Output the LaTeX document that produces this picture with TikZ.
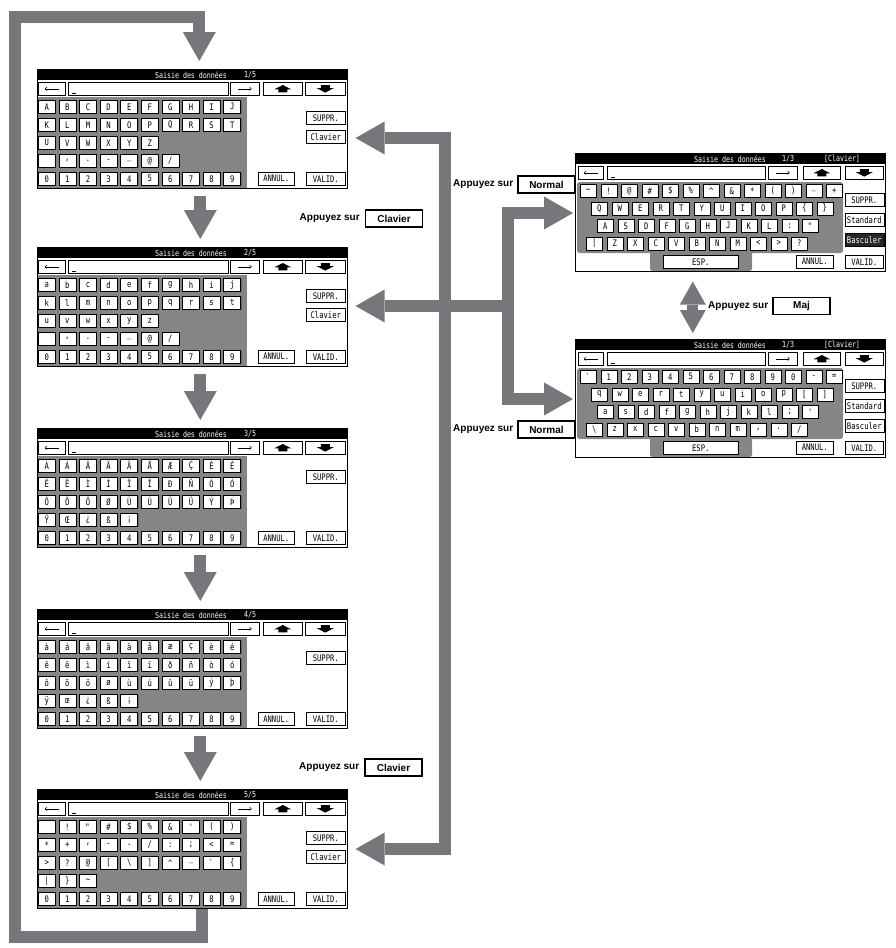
\documentclass[tikz,border=0pt]{standalone}
\usepackage{fontspec}
\setmainfont{Liberation Sans}
\newfontfamily\lcd[FakeStretch=0.8]{DejaVu Sans Mono}
\usetikzlibrary{arrows.meta,calc}
\definecolor{arrowgray}{HTML}{77777B}
\definecolor{padgray}{HTML}{858585}
\newcommand\lcdfont{\lcd\fontsize{9}{9}\selectfont}
\tikzset{
 btn/.style={draw=black, fill=white, line width=0.55pt, minimum height=13pt, inner sep=0pt, anchor=north west, font=\lcdfont, preaction={fill=black!60, transform canvas={xshift=0.9pt,yshift=-0.9pt}}},
 key/.style={btn, minimum width=17pt},
 field/.style={draw=black, fill=white, line width=0.55pt, minimum height=13pt, inner sep=0pt, anchor=north west},
 ttl/.style={text=white, font=\lcd\fontsize{8.3}{8.3}\selectfont, inner sep=0pt},
 frame/.style={draw=black, line width=0.6pt, inner sep=0pt, anchor=north west, minimum width=310pt},
 bigarrow/.style={draw=arrowgray, line width=12pt, line join=miter, -{Triangle[length=29pt,width=33pt,line width=0pt]}},
 shaft/.style={draw=arrowgray, line width=12pt, line join=miter},
 lab/.style={font=\bfseries\fontsize{10}{12}\selectfont, inner sep=0pt, anchor=east},
 lbox/.style={draw=black, line width=1.1pt, font=\bfseries\fontsize{10}{12}\selectfont, minimum width=57pt, minimum height=17pt, inner sep=0pt},
 hilite/.style={fill=black!85, text=white},
 plain/.style={},
}
\newcommand\keyrow[6]{%
 \foreach \c [count=\i from 0] in {#5} {\node[key, minimum width=#6pt] (#1-\i) at ({#2+#4*\i},#3) {\c};}%
}
\newcommand\uparr[1]{\fill[shift={(#1.center)}] (0,-3.8) -- (8.5,0.6) -- (4.5,0.6) -- (4.5,3.6) -- (-4.5,3.6) -- (-4.5,0.6) -- (-8.5,0.6) -- cycle;}
\newcommand\dnarr[1]{\fill[shift={(#1.center)}] (0,3.8) -- (8.5,-0.6) -- (4.5,-0.6) -- (4.5,-3.6) -- (-4.5,-3.6) -- (-4.5,-0.6) -- (-8.5,-0.6) -- cycle;}
\newcommand\larr[1]{\draw[line width=0.5pt,-{Straight Barb[length=1.8pt,width=3.2pt]}] ($(#1.center)+(7,0)$) -- ($(#1.center)+(-7,0)$);}
\newcommand\rarr[1]{\draw[line width=0.5pt,-{Straight Barb[length=1.8pt,width=3.2pt]}] ($(#1.center)+(-7,0)$) -- ($(#1.center)+(7,0)$);}
\newcommand\leftscreen[7]{%
 \fill[padgray] (37,#2+28) rectangle (247,#2+119);
 \fill[black] (37,#2) rectangle (347,#2+11);
 \node[ttl] (#1-t) at (191,#2+5.8) {Saisie des données};
 \node[ttl] (#1-p) at (250,#2+5.8) {#3/5};
 \node[btn, minimum width=27pt] (#1-lt) at (38,#2+13) {};
 \node[field, minimum width=160pt] (#1-f) at (68,#2+13) {};
 \draw[line width=0.5pt] (72,#2+24) -- (76,#2+24);
 \node[btn, minimum width=29pt] (#1-rt) at (230,#2+13) {};
 \node[btn, minimum width=39pt] (#1-up) at (263,#2+13) {};
 \node[btn, minimum width=40pt] (#1-dn) at (305,#2+13) {};
 \larr{#1-lt}\rarr{#1-rt}\uparr{#1-up}\dnarr{#1-dn}
 \keyrow{#1-a}{38}{#2+31}{20.6}{#4}{17}
 \keyrow{#1-b}{38}{#2+49}{20.6}{#5}{17}
 \keyrow{#1-c}{38}{#2+67}{20.6}{#6}{17}
 \keyrow{#1-d}{38}{#2+85}{20.6}{#7}{17}
 \keyrow{#1-e}{38}{#2+103}{20.6}{0,1,2,3,4,5,6,7,8,9}{17}
 \node[btn, minimum width=39pt] (#1-sup) at (306,#2+42) {SUPPR.};
 \node[btn, minimum width=36pt] (#1-ann) at (258,#2+103) {ANNUL.};
 \node[btn, minimum width=39pt] (#1-val) at (306,#2+103) {VALID.};
 \node[frame, minimum height=119pt] (#1) at (37,#2) {};
}
\newcommand\clav[2]{\node[btn, minimum width=39pt] (#1-clv) at (306,#2+61) {Clavier};}
\newcommand\rightscreen[7]{%
 \fill[padgray, rounded corners=2.5pt] (577,#2+29) rectangle (843,#2+100);
 \fill[padgray, rounded corners=2.5pt] (650,#2+90) rectangle (752,#2+118);
 \fill[black] (575,#2) rectangle (885,#2+11);
 \node[ttl] (#1-t) at (730,#2+5.8) {Saisie des données};
 \node[ttl] (#1-p) at (788,#2+5.8) {1/3};
 \node[ttl] (#1-k) at (842,#2+5.8) {[Clavier]};
 \node[btn, minimum width=25pt] (#1-lt) at (578,#2+13) {};
 \node[field, minimum width=158pt] (#1-f) at (607,#2+13) {};
 \draw[line width=0.5pt] (611,#2+24) -- (615,#2+24);
 \node[btn, minimum width=29pt] (#1-rt) at (768,#2+13) {};
 \node[btn, minimum width=37pt] (#1-up) at (803,#2+13) {};
 \node[btn, minimum width=38pt] (#1-dn) at (845,#2+13) {};
 \larr{#1-lt}\rarr{#1-rt}\uparr{#1-up}\dnarr{#1-dn}
 \keyrow{#1-a}{580}{#2+31}{20.5}{#3}{16}
 \keyrow{#1-b}{591}{#2+48.5}{20.5}{#4}{16}
 \keyrow{#1-c}{597}{#2+66}{20.5}{#5}{16}
 \keyrow{#1-d}{586}{#2+83.5}{20.5}{#6}{16}
 \node[btn, minimum width=39pt] (#1-sup) at (844.5,#2+40) {SUPPR.};
 \node[btn, minimum width=39pt] (#1-std) at (844.5,#2+60) {Standard};
 \node[btn, minimum width=39pt, #7] (#1-bas) at (844.5,#2+80) {Basculer};
 \node[btn, minimum width=75pt] (#1-esp) at (663,#2+102) {ESP.};
 \node[btn, minimum width=37pt] (#1-ann) at (796,#2+102) {ANNUL.};
 \node[btn, minimum width=38pt] (#1-val) at (845,#2+102) {VALID.};
 \node[frame, minimum height=118pt] (#1) at (575,#2) {};
}
\begin{document}
\begin{tikzpicture}[x=1pt,y=-1pt]
\fill[white] (0,0) rectangle (896,948);
\useasboundingbox (0,0) rectangle (896,948);

% ---------- left screens ----------
\leftscreen{L1}{69}{1}{A,B,C,D,E,F,G,H,I,J}{K,L,M,N,O,P,Q,R,S,T}{U,V,W,X,Y,Z}{{},{,},.,-,\_,@,/}
\clav{L1}{69}
\leftscreen{L2}{247}{2}{a,b,c,d,e,f,g,h,i,j}{k,l,m,n,o,p,q,r,s,t}{u,v,w,x,y,z}{{},{,},.,-,\_,@,/}
\clav{L2}{247}
\leftscreen{L3}{428}{3}{À,Á,Â,Ã,Ä,Å,Æ,Ç,È,É}{Ê,Ë,Ì,Í,Î,Ï,Ð,Ñ,Ò,Ó}{Ô,Õ,Ö,Ø,Ù,Ú,Û,Ü,Ý,Þ}{Ÿ,Œ,¿,ß,¡}
\leftscreen{L4}{609}{4}{à,á,â,ã,ä,å,æ,ç,è,é}{ê,ë,ì,í,î,ï,ð,ñ,ò,ó}{ô,õ,ö,ø,ù,ú,û,ü,ý,þ}{ÿ,œ,¿,ß,¡}
\leftscreen{L5}{789}{5}{{},!,\textquotedbl,\#,\$,\%,\&,',{(},{)}}{*,+,{,},-,.,/,:,;,<,=}{>,?,@,[,\textbackslash,],\textasciicircum,\_,\textasciigrave,\{}{|,\},\textasciitilde}
\clav{L5}{789}

% ---------- right screens ----------
\rightscreen{R1}{153}{\textasciitilde,!,@,\#,\$,\%,\textasciicircum,\&,*,{(},{)},\_,+}{Q,W,E,R,T,Y,U,I,O,P,\{,\}}{A,S,D,F,G,H,J,K,L,:,\textquotedbl}{|,Z,X,C,V,B,N,M,<,>,?}{hilite}
\rightscreen{R2}{339}{\textasciigrave,1,2,3,4,5,6,7,8,9,0,-,=}{q,w,e,r,t,y,u,i,o,p,[,]}{a,s,d,f,g,h,j,k,l,;,'}{\textbackslash,z,x,c,v,b,n,m,{,},.,/}{plain}

% ---------- loop arrow ----------
\coordinate (lp0) at ($(L5.south)+(10,0)$);
\coordinate (lp1) at ($(L1.north)+(7,-8)$);
\draw[bigarrow] (lp0) -- ++(0,28) -| (14.5,16.5) -| (lp1);

% ---------- down arrows ----------
\draw[bigarrow] ($(L1.south)+(8,7)$) -- ($(L2.north)+(8,-8)$);
\draw[bigarrow] ($(L2.south)+(8,7)$) -- ($(L3.north)+(8,-8)$);
\draw[bigarrow] ($(L3.south)+(8,7)$) -- ($(L4.north)+(8,-8)$);
\draw[bigarrow] ($(L4.south)+(8,7)$) -- ($(L5.north)+(8,-8)$);

% ---------- bus arrows ----------
\coordinate (J) at (445,306);
\coordinate (J2) at (507.5,306);
\coordinate (T1) at ($(L1.north east)+(8,69)$);
\coordinate (T2) at ($(L2.north east)+(8,59)$);
\coordinate (T5) at ($(L5.north east)+(8,60)$);
\coordinate (TR1) at ($(R1.north west)+(-2,60)$);
\coordinate (TR2) at ($(R2.north west)+(-2,60)$);
\draw[bigarrow] (J) |- (T1);
\draw[bigarrow] (J) -- (T2);
\draw[bigarrow] (J) |- (T5);
\draw[shaft] (J) -- (J2);
\draw[bigarrow] (J2) |- (TR1);
\draw[bigarrow] (J2) |- (TR2);

% ---------- double arrow ----------
\coordinate (D1) at ($(R1.south)+(-37.5,10)$);
\coordinate (D2) at ($(R2.north)+(-37.5,-6)$);
\draw[draw=arrowgray, line width=11pt, {Triangle[length=23pt,width=26pt,line width=0pt]}-{Triangle[length=23pt,width=26pt,line width=0pt]}] (D1) -- (D2);

% ---------- labels ----------
\node[lbox] (bC1) at (394,218.5) {Clavier};
\node[lab] (aC1) at ($(bC1.west)+(-5,0)$) {Appuyez sur};
\node[lbox] (bC2) at (393.5,767.5) {Clavier};
\node[lab] (aC2) at ($(bC2.west)+(-5,0)$) {Appuyez sur};
\node[lbox] (bN1) at (546.5,184.5) {Normal};
\node[lab] (aN1) at ($(bN1.west)+(-4,0)$) {Appuyez sur};
\node[lbox] (bN2) at (546.5,429.5) {Normal};
\node[lab] (aN2) at ($(bN2.west)+(-4,0)$) {Appuyez sur};
\node[lbox] (bM) at (801.5,306) {Maj};
\node[lab] (aM) at ($(bM.west)+(-4,0)$) {Appuyez sur};
\end{tikzpicture}
\end{document}
